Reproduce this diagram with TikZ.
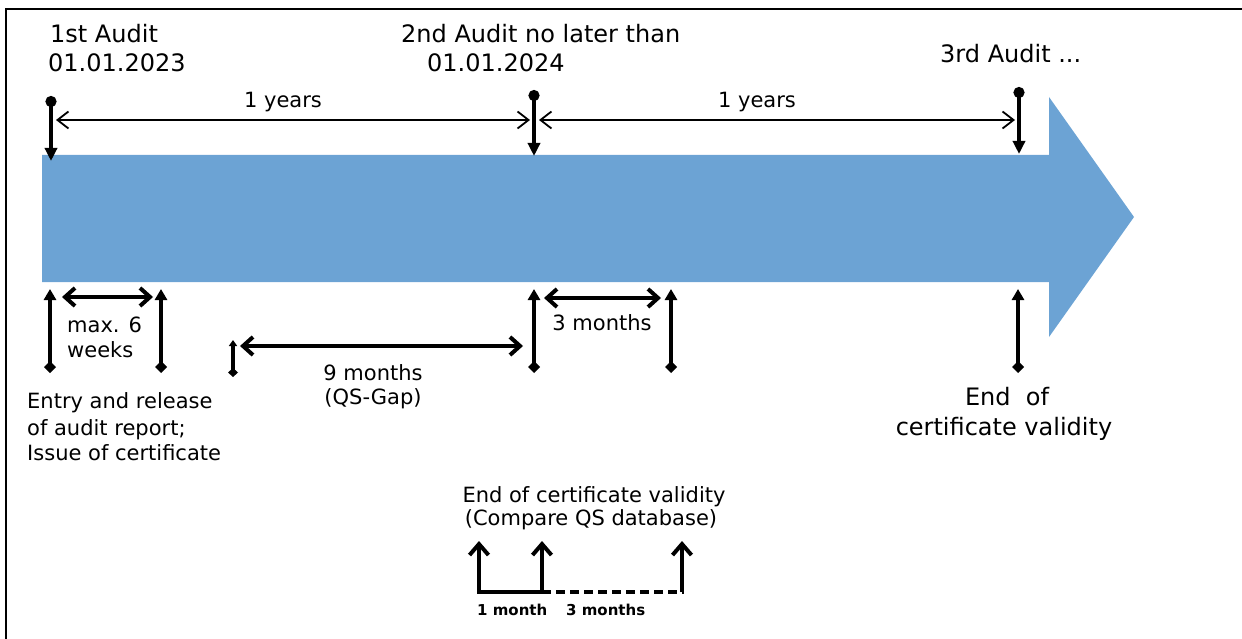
\documentclass[tikz,border=0pt]{standalone}
\usepackage{fontspec}
\setmainfont{DejaVu Sans}
\usetikzlibrary{arrows.meta}
\definecolor{band}{HTML}{6CA3D4}

\begin{document}
\begin{tikzpicture}[x=1pt,y=-1pt,
  big/.style={inner sep=0pt, font=\fontsize{24}{29}\selectfont},
  lbl/.style={inner sep=0pt, font=\fontsize{21}{25}\selectfont},
  tiny/.style={inner sep=0pt, font=\fontsize{15}{18}\selectfont\bfseries},
  audit/.style={line width=3.5pt, {Circle[length=11pt,width=11pt]}-{Triangle[length=13pt,width=12pt]}},
  span/.style={line width=1.8pt, {Straight Barb[length=11pt,width=17pt]}-{Straight Barb[length=11pt,width=17pt]}},
  gap/.style={line width=4pt, {Straight Barb[length=10pt,width=18pt]}-{Straight Barb[length=10pt,width=18pt]}},
  tick/.style={line width=3.5pt, {Triangle[length=11pt,width=12pt]}-{Diamond[length=12pt,width=12pt]}},
  base/.style={line width=4pt},
  upmark/.style={line width=4pt, -{Straight Barb[length=11pt,width=19pt]}}
]
\useasboundingbox (0,0) rectangle (1242,639);

% frame (top and left edges)
\draw[line width=2pt] (6,639) -- (6,9) -- (1242,9);

% timeline band
\fill[band] (42,155) -- (1049,155) -- (1049,97) -- (1134,217)
  -- (1049,337) -- (1049,282) -- (42,282) -- cycle;

% audit markers
\coordinate (a1t) at (51,96);   \coordinate (a1b) at (51,161);
\coordinate (a2t) at (534,90);  \coordinate (a2b) at (534,156);
\coordinate (a3t) at (1019,87); \coordinate (a3b) at (1019,154);
\draw[audit] (a1t) -- (a1b);
\draw[audit] (a2t) -- (a2b);
\draw[audit] (a3t) -- (a3b);

% yearly intervals
\coordinate (y1l) at (56,120);  \coordinate (y1r) at (530,120);
\coordinate (y2l) at (539,120); \coordinate (y2r) at (1015,120);
\draw[span] (y1l) -- (y1r);
\draw[span] (y2l) -- (y2r);
\node[lbl, anchor=base] (yr1) at (283,108) {1 years};
\node[lbl, anchor=base] (yr2) at (757,108) {1 years};

% audit titles
\node[big, anchor=base west] (t1a) at (50,43) {1st Audit};
\node[big, anchor=base west] (t1b) at (48,72) {01.01.2023};
\node[big, anchor=base west] (t2a) at (401,43) {2nd Audit no later than};
\node[big, anchor=base west] (t2b) at (427,72) {01.01.2024};
\node[big, anchor=base west] (t3a) at (940,63) {3rd Audit ...};

% ticks below the band
\coordinate (k1t) at (50,289);   \coordinate (k1b) at (50,373);
\coordinate (k2t) at (161,289);  \coordinate (k2b) at (161,373);
\coordinate (k3t) at (233,340);  \coordinate (k3b) at (233,377);
\coordinate (k4t) at (534,289);  \coordinate (k4b) at (534,373);
\coordinate (k5t) at (671,289);  \coordinate (k5b) at (671,373);
\coordinate (k6t) at (1018,289); \coordinate (k6b) at (1018,373);
\draw[tick] (k1t) -- (k1b);
\draw[tick] (k2t) -- (k2b);
\draw[tick, {Triangle[length=6pt,width=8pt]}-{Diamond[length=9pt,width=10pt]}] (k3t) -- (k3b);
\draw[tick] (k4t) -- (k4b);
\draw[tick] (k5t) -- (k5b);
\draw[tick] (k6t) -- (k6b);

% intervals below the band
\coordinate (g1l) at (62,297);  \coordinate (g1r) at (153,297);
\coordinate (g2l) at (240,346); \coordinate (g2r) at (523,346);
\coordinate (g3l) at (544,298); \coordinate (g3r) at (661,298);
\draw[gap] (g1l) -- (g1r);
\draw[gap] (g2l) -- (g2r);
\draw[gap] (g3l) -- (g3r);

\node[lbl, anchor=base west] (w1) at (67,332) {max. 6};
\node[lbl, anchor=base west] (w2) at (67,357) {weeks};
\node[lbl, anchor=base west] (e1) at (27,408) {Entry and release};
\node[lbl, anchor=base west] (e2) at (27,435) {of audit report;};
\node[lbl, anchor=base west] (e3) at (27,460) {Issue of certificate};
\node[lbl, anchor=base] (m1) at (373,380) {9 months};
\node[lbl, anchor=base] (m2) at (373,404) {(QS-Gap)};
\node[lbl, anchor=base] (m3) at (602,330) {3 months};
\node[big, anchor=base] (v1) at (1007,405) {End\ \ of};
\node[big, anchor=base] (v2) at (1004,435) {certificate validity};

% validity detail
\node[lbl, anchor=base] (c1) at (594,502) {End of certificate validity};
\node[lbl, anchor=base] (c2) at (591,525) {(Compare QS database)};
\coordinate (b1) at (479,592); \coordinate (b1t) at (479,541);
\coordinate (b2) at (542,592); \coordinate (b2t) at (542,541);
\coordinate (b3) at (682,592); \coordinate (b3t) at (682,541);
\draw[base] ([xshift=-2pt]b1) -- (b2);
\draw[base, dash pattern=on 9pt off 5pt] (b2) -- ([xshift=2pt]b3);
\draw[upmark] (b1) -- (b1t);
\draw[upmark] (b2) -- (b2t);
\draw[upmark] (b3) -- (b3t);
\node[tiny, anchor=base west] (n1) at (477,615) {1 month};
\node[tiny, anchor=base west] (n2) at (566,615) {3 months};
\end{tikzpicture}
\end{document}
